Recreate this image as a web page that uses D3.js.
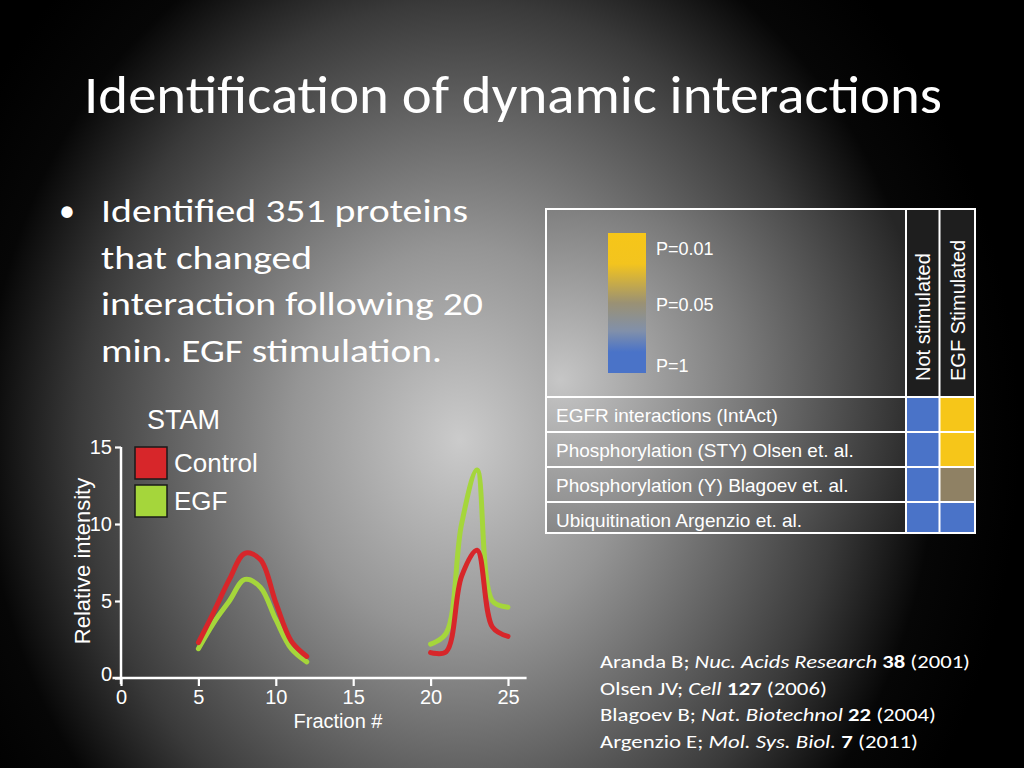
<!DOCTYPE html>
<html>
<head>
<meta charset="utf-8">
<script src="https://cdn.jsdelivr.net/npm/d3@7"></script>
<style>
  html, body { margin: 0; padding: 0; background: #000; }
  svg { display: block; }
</style>
</head>
<body>
<script>
// ---- data ----
const peak1Fractions = [5, 6, 7, 8, 9, 10, 11, 12];
const peak1Control   = [2.3, 4.3, 6.4, 8.1, 7.7, 4.9, 2.4, 1.4];
const peak1EGF       = [1.9, 3.6, 5.0, 6.4, 5.9, 3.8, 1.9, 1.05];
const peak2Fractions = [20, 21, 22, 23, 24, 25];
const peak2Control   = [1.65, 1.7, 6.6, 8.3, 3.3, 2.7];
const peak2EGF       = [2.2, 2.9, 10.0, 13.5, 5.0, 4.6];
const xTicks = [0, 5, 10, 15, 20, 25];
const yTicks = [0, 5, 10, 15];
const seriesNames = ["Control", "EGF"];
const seriesColors = ["#d7262a", "#a5d63b"];

const rowLabels = [
  "EGFR interactions (IntAct)",
  "Phosphorylation (STY) Olsen et. al.",
  "Phosphorylation (Y) Blagoev et. al.",
  "Ubiquitination Argenzio et. al."
];
const colLabels = ["Not stimulated", "EGF Stimulated"];
const notStimP = [1, 1, 1, 1];
const egfStimP = [0.01, 0.01, 0.05, 1];
const pLegend = ["P=0.01", "P=0.05", "P=1"];

const bullet = [
  "Identified 351 proteins",
  "that changed",
  "interaction following 20",
  "min. EGF stimulation."
];
const bulletWidths = [367, 211, 382, 341];

const references = [
  [["Aranda B; ", ""], ["Nuc. Acids Research", "i"], [" ", ""], ["38", "b"], [" (2001)", ""]],
  [["Olsen JV; ", ""], ["Cell", "i"], [" ", ""], ["127", "b"], [" (2006)", ""]],
  [["Blagoev B; ", ""], ["Nat. Biotechnol", "i"], [" ", ""], ["22", "b"], [" (2004)", ""]],
  [["Argenzio E; ", ""], ["Mol. Sys. Biol.", "i"], [" ", ""], ["7", "b"], [" (2011)", ""]]
];
const refWidths = [370, 227, 336, 318];

// ---- page ----
const W = 1024, H = 768;
const svg = d3.select("body").append("svg")
    .attr("width", W)
    .attr("height", H);

const defs = svg.append("defs");

const bg = defs.append("radialGradient")
    .attr("id", "bg")
    .attr("gradientUnits", "userSpaceOnUse")
    .attr("cx", 460).attr("cy", 440).attr("r", 560)
    .attr("gradientTransform", "translate(460,440) scale(1,1.15) translate(-460,-440)");
[[0, "#cbcbcb"], [0.3, "#959595"], [0.68, "#3a3a3a"], [0.85, "#060606"], [1, "#000"]]
  .forEach(([o, c]) => bg.append("stop").attr("offset", o).attr("stop-color", c));

svg.append("rect")
    .attr("width", W).attr("height", H)
    .attr("fill", "url(#bg)");

const sans = "'Liberation Sans', Arial, sans-serif";
const slideFont = "Carlito, Lato, 'Open Sans', sans-serif";

// Title
svg.append("text")
    .attr("x", 84).attr("y", 113)
    .attr("font-family", slideFont)
    .attr("font-size", 54)
    .attr("fill", "#fff")
    .attr("textLength", 858)
    .attr("lengthAdjust", "spacingAndGlyphs")
    .text("Identification of dynamic interactions");

// Bullet
svg.append("text")
    .attr("x", 59).attr("y", 221)
    .attr("font-family", slideFont)
    .attr("font-size", 32)
    .attr("fill", "#fff")
    .text("•");

svg.selectAll("text.bullet")
  .data(bullet)
  .join("text")
    .attr("class", "bullet")
    .attr("x", 101)
    .attr("y", (d, i) => 222 + i * 46.7)
    .attr("font-family", slideFont)
    .attr("font-size", 32)
    .attr("fill", "#fff")
    .attr("textLength", (d, i) => bulletWidths[i])
    .attr("lengthAdjust", "spacingAndGlyphs")
    .text(d => d);

// ---- chart ----
const x = d3.scaleLinear().domain([0, 25]).range([121, 508]);
const y = d3.scaleLinear().domain([0, 15]).range([678, 447]);

const chart = svg.append("g");

const xAxis = chart.append("g")
    .attr("transform", `translate(0,${y(0)})`)
    .call(d3.axisBottom(x).tickValues(xTicks).tickSize(8).tickPadding(4).tickSizeOuter(0));
xAxis.select(".domain").remove();
chart.append("line")
    .attr("x1", x(-0.55)).attr("x2", x(26.2))
    .attr("y1", y(0)).attr("y2", y(0))
    .attr("stroke", "#fff").attr("stroke-width", 2.5);

const yAxis = chart.append("g")
    .attr("transform", `translate(${x(0)},0)`)
    .call(d3.axisLeft(y).tickValues(yTicks).tickSize(6).tickPadding(3).tickSizeOuter(0));
yAxis.select(".domain").remove();
chart.append("line")
    .attr("x1", x(0)).attr("x2", x(0))
    .attr("y1", y(15)).attr("y2", y(-0.4))
    .attr("stroke", "#fff").attr("stroke-width", 2.5);

chart.selectAll(".tick line").attr("stroke", "#fff").attr("stroke-width", 2.2);
chart.selectAll(".tick text")
    .attr("fill", "#fff")
    .attr("font-family", sans)
    .attr("font-size", 20);
yAxis.selectAll(".tick text").filter(d => d === 0).attr("dy", "0.1em");

chart.append("text")
    .attr("x", 338).attr("y", 728)
    .attr("text-anchor", "middle")
    .attr("font-family", sans)
    .attr("font-size", 20)
    .attr("fill", "#fff")
    .text("Fraction #");

chart.append("text")
    .attr("transform", "translate(90,561) rotate(-90)")
    .attr("text-anchor", "middle")
    .attr("font-family", sans)
    .attr("font-size", 22)
    .attr("fill", "#fff")
    .text("Relative intensity");

const line = d3.line()
    .x(d => x(d[0]))
    .y(d => y(d[1]))
    .curve(d3.curveCatmullRom.alpha(0.5));

const segments = [
  { f: peak1Fractions, v: peak1Control, s: 0 },
  { f: peak1Fractions, v: peak1EGF, s: 1 },
  { f: peak2Fractions, v: peak2Control, s: 0 },
  { f: peak2Fractions, v: peak2EGF, s: 1 }
];
// draw green first, red on top like the slide
segments.sort((a, b) => b.s - a.s).forEach(seg => {
  chart.append("path")
      .attr("d", line(seg.f.map((f, i) => [f, seg.v[i]])))
      .attr("fill", "none")
      .attr("stroke", seriesColors[seg.s])
      .attr("stroke-width", 5)
      .attr("stroke-linecap", "round")
      .attr("stroke-linejoin", "round");
});

// legend
chart.append("text")
    .attr("x", 147).attr("y", 429)
    .attr("font-family", sans)
    .attr("font-size", 27)
    .attr("fill", "#fff")
    .text("STAM");

const leg = chart.selectAll("g.leg")
  .data(seriesNames)
  .join("g")
    .attr("class", "leg")
    .attr("transform", (d, i) => `translate(135,${447 + i * 38})`);
leg.append("rect")
    .attr("width", 32).attr("height", 32)
    .attr("fill", (d, i) => seriesColors[i])
    .attr("stroke", "#1a1a1a")
    .attr("stroke-width", 1.5);
leg.append("text")
    .attr("x", 39).attr("y", 25)
    .attr("font-family", sans)
    .attr("font-size", 26)
    .attr("fill", "#fff")
    .text(d => d);

// ---- table ----
const tX0 = 546, tX1 = 975, tTop = 209, tHead = 397, rowH = 35;
const colX = [906, 939.5, 975];
const tBottom = tHead + rowH * rowLabels.length - 4;

const tg = defs.append("radialGradient")
    .attr("id", "tbg")
    .attr("gradientUnits", "userSpaceOnUse")
    .attr("cx", 560).attr("cy", 380).attr("r", 370);
[[0, "#c6c6c6"], [0.5, "#7a7a7a"], [1, "#262626"]]
  .forEach(([o, c]) => tg.append("stop").attr("offset", o).attr("stop-color", c));

const table = svg.append("g");
table.append("rect")
    .attr("x", tX0).attr("y", tTop)
    .attr("width", tX1 - tX0).attr("height", tBottom - tTop)
    .attr("fill", "url(#tbg)");
table.append("rect")
    .attr("x", colX[0]).attr("y", tTop)
    .attr("width", tX1 - colX[0]).attr("height", tHead - tTop)
    .attr("fill", "#1e1e1e");

const pScale = d3.scaleLog()
    .domain([0.01, 0.05, 1])
    .range(["#f6c619", "#8f8164", "#4a73c8"]);

const rowY = i => tHead + i * rowH;
const rowHt = i => (i === rowLabels.length - 1 ? rowH - 4 : rowH);

[notStimP, egfStimP].forEach((col, c) => {
  table.selectAll(null)
    .data(col)
    .join("rect")
      .attr("x", colX[c]).attr("y", (d, i) => rowY(i))
      .attr("width", colX[c + 1] - colX[c]).attr("height", (d, i) => rowHt(i))
      .attr("fill", d => pScale(d));
});

table.selectAll("text.row")
  .data(rowLabels)
  .join("text")
    .attr("class", "row")
    .attr("x", 556)
    .attr("y", (d, i) => rowY(i) + 25)
    .attr("font-family", sans)
    .attr("font-size", 19)
    .attr("fill", "#fff")
    .text(d => d);

table.selectAll("text.col")
  .data(colLabels)
  .join("text")
    .attr("class", "col")
    .attr("transform", (d, i) => `translate(${[930, 965][i]},381) rotate(-90)`)
    .attr("font-family", sans)
    .attr("font-size", 20)
    .attr("fill", "#fff")
    .text(d => d);

// grid lines
const gl = table.append("g")
    .attr("stroke", "#fff").attr("stroke-width", 2).attr("fill", "none");
gl.append("rect")
    .attr("x", tX0).attr("y", tTop)
    .attr("width", tX1 - tX0).attr("height", tBottom - tTop);
d3.range(rowLabels.length).forEach(i => {
  gl.append("line").attr("x1", tX0).attr("x2", tX1).attr("y1", rowY(i)).attr("y2", rowY(i));
});
colX.slice(0, 2).forEach(cx => {
  gl.append("line").attr("x1", cx).attr("x2", cx).attr("y1", tTop).attr("y2", tBottom);
});

// p-value colour bar
const pg = defs.append("linearGradient")
    .attr("id", "pbar")
    .attr("x1", 0).attr("y1", 0).attr("x2", 0).attr("y2", 1);
[[0, "#f6c619"], [0.22, "#f3c41e"], [0.5, "#9a9174"], [0.7, "#8190aa"], [0.85, "#4a73c8"], [1, "#4a73c8"]]
  .forEach(([o, c]) => pg.append("stop").attr("offset", o).attr("stop-color", c));

table.append("rect")
    .attr("x", 608).attr("y", 233)
    .attr("width", 38).attr("height", 140)
    .attr("fill", "url(#pbar)");
table.selectAll("text.p")
  .data(pLegend)
  .join("text")
    .attr("class", "p")
    .attr("x", 656)
    .attr("y", (d, i) => [255, 311, 372][i])
    .attr("font-family", sans)
    .attr("font-size", 18)
    .attr("fill", "#fff")
    .text(d => d);

// ---- references ----
const refs = svg.selectAll("text.ref")
  .data(references)
  .join("text")
    .attr("class", "ref")
    .attr("x", 600)
    .attr("y", (d, i) => 668 + i * 26.6)
    .attr("font-family", slideFont)
    .attr("font-size", 19)
    .attr("fill", "#fff")
    .attr("textLength", (d, i) => refWidths[i])
    .attr("lengthAdjust", "spacingAndGlyphs");
refs.selectAll("tspan")
  .data(d => d)
  .join("tspan")
    .attr("font-style", d => d[1] === "i" ? "italic" : "normal")
    .attr("font-weight", d => d[1] === "b" ? "bold" : "normal")
    .text(d => d[0]);
</script>
</body>
</html>
